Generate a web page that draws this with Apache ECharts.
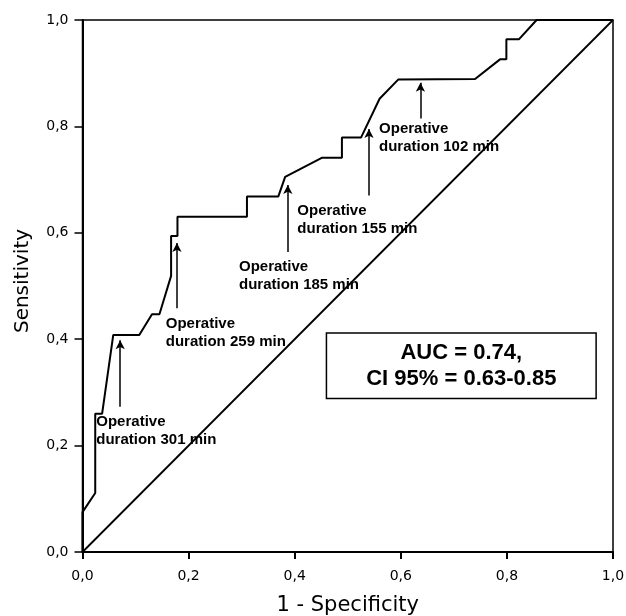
<!DOCTYPE html>
<html>
<head>
<meta charset="utf-8">
<script src="https://cdn.jsdelivr.net/npm/echarts@6/dist/echarts.min.js"></script>
<style>html,body{margin:0;padding:0;background:#fff}#c{width:626px;height:616px}</style>
</head>
<body>
<div id="c"></div>
<script>
// ROC curve points: [1 - specificity, sensitivity]
const rocX = [0, 0, 0.024, 0.024, 0.037, 0.058, 0.107, 0.131, 0.145, 0.167, 0.167, 0.179, 0.179, 0.310, 0.310, 0.369, 0.382, 0.451, 0.489, 0.489, 0.525, 0.560, 0.595, 0.740, 0.787, 0.799, 0.799, 0.823, 0.856, 1];
const rocY = [0, 0.075, 0.111, 0.260, 0.260, 0.408, 0.408, 0.447, 0.447, 0.519, 0.594, 0.594, 0.630, 0.630, 0.668, 0.668, 0.705, 0.741, 0.741, 0.779, 0.779, 0.852, 0.888, 0.889, 0.926, 0.926, 0.964, 0.964, 1.0, 1.0];
const refX = [0, 1];
const refY = [0, 1];
const tickLabels = ['0,0', '0,2', '0,4', '0,6', '0,8', '1,0'];

// Annotations: arrow x, arrow start y, arrow end y, label anchor x, label anchor y, text
const annX      = [0.071, 0.178, 0.387, 0.540, 0.637];
const annY0     = [0.273, 0.458, 0.564, 0.670, 0.815];
const annY1     = [0.398, 0.581, 0.690, 0.795, 0.882];
const annLabelX = [0.026, 0.157, 0.295, 0.405, 0.559];
const annLabelY = [0.228, 0.412, 0.519, 0.624, 0.778];
const annText   = ['Operative\nduration 301 min', 'Operative\nduration 259 min', 'Operative\nduration 185 min', 'Operative\nduration 155 min', 'Operative\nduration 102 min'];

const aucPos = [0.714, 0.350];
const aucText = 'AUC = 0.74,\nCI 95% = 0.63-0.85';

const chart = echarts.init(document.getElementById('c'), null, {renderer: 'canvas'});

const tickFmt = v => tickLabels[Math.round(v * 5)] || '';

const option = {
  animation: false,
  backgroundColor: '#fff',
  grid: {left: 82.5, right: 13, top: 20, bottom: 64, show: true, borderColor: '#000', borderWidth: 1.5,
         containLabel: false, outerBoundsMode: 'none'},
  xAxis: {
    type: 'value', min: 0, max: 1, interval: 0.2,
    name: '1 - Specificity', nameLocation: 'middle', nameGap: 43,
    nameTextStyle: {fontFamily: 'DejaVu Sans', fontSize: 21, color: '#000'},
    axisLine: {lineStyle: {color: '#000', width: 2}},
    axisTick: {show: true, length: 7, lineStyle: {color: '#000', width: 2}},
    axisLabel: {formatter: tickFmt, fontFamily: 'DejaVu Sans', fontSize: 14, color: '#000', margin: 17},
    splitLine: {show: false}
  },
  yAxis: {
    type: 'value', min: 0, max: 1, interval: 0.2,
    name: 'Sensitivity', nameLocation: 'middle', nameGap: 50,
    nameTextStyle: {fontFamily: 'DejaVu Sans', fontSize: 20, color: '#000', padding: [0, 0, 0, 10]},
    axisLine: {lineStyle: {color: '#000', width: 2}},
    axisTick: {show: true, length: 8, lineStyle: {color: '#000', width: 1.5}},
    axisLabel: {formatter: tickFmt, fontFamily: 'DejaVu Sans', fontSize: 14, color: '#000', margin: 14},
    splitLine: {show: false}
  },
  series: [
    {
      type: 'line', data: refX.map((x, i) => [x, refY[i]]),
      symbol: 'none', lineStyle: {color: '#000', width: 1.8}, z: 2
    },
    {
      type: 'line', data: rocX.map((x, i) => [x, rocY[i]]),
      symbol: 'none', lineStyle: {color: '#000', width: 2}, z: 3,
      markLine: {
        silent: true, symbol: ['none', 'arrow'], symbolSize: [7, 9],
        lineStyle: {color: '#000', width: 1.5, type: 'solid'},
        label: {show: false},
        data: annX.map((x, i) => [{coord: [x, annY0[i]]}, {coord: [x, annY1[i]]}])
      }
    },
    {
      type: 'scatter', symbolSize: 0, silent: true, itemStyle: {opacity: 1},
      data: annLabelX.map((x, i) => ({value: [x, annLabelY[i]], name: annText[i]})),
      label: {
        show: true, position: 'right', distance: 0, formatter: p => p.name,
        fontFamily: 'Liberation Sans', fontWeight: 'bold', fontSize: 15, lineHeight: 18, color: '#000', align: 'left'
      }
    },
    {
      type: 'scatter', symbolSize: 0, silent: true, itemStyle: {opacity: 1},
      data: [{value: aucPos, name: aucText}],
      label: {
        show: true, position: 'inside', formatter: p => p.name,
        fontFamily: 'Liberation Sans', fontWeight: 'bold', fontSize: 22, lineHeight: 26, color: '#000',
        align: 'center', verticalAlign: 'middle',
        borderColor: '#000', borderWidth: 1.5, padding: [6, 39], backgroundColor: '#fff'
      }
    }
  ]
};
chart.setOption(option);
</script>
</body>
</html>
